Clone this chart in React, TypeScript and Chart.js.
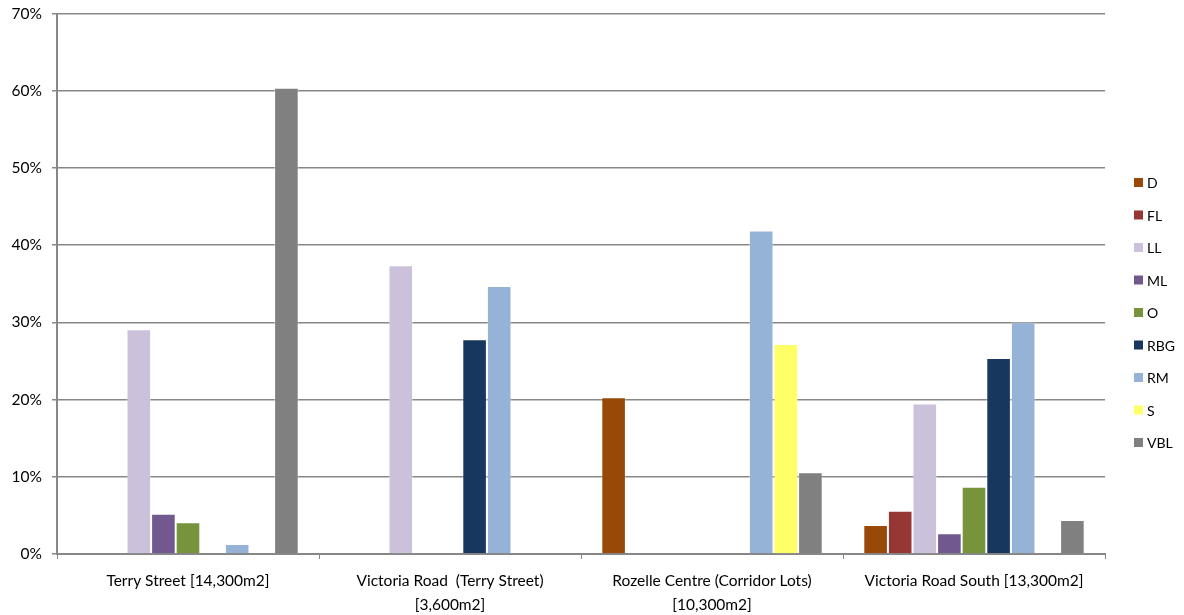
import React, { useEffect, useRef } from "react";
import { Chart, registerables } from "chart.js";

Chart.register(...registerables);

const categories: (string | string[])[] = [
  "Terry Street [14,300m2]",
  ["Victoria Road  (Terry Street)", "[3,600m2]"],
  ["Rozelle Centre (Corridor Lots)", "[10,300m2]"],
  "Victoria Road South [13,300m2]",
];

const seriesNames = ["D", "FL", "LL", "ML", "O", "RBG", "RM", "S", "VBL"];
const seriesColors = [
  "#984807",
  "#953735",
  "#CCC1DA",
  "#71588F",
  "#77933C",
  "#17375E",
  "#95B3D7",
  "#FFFF66",
  "#808080",
];

const D = [0, 0, 20.3, 3.75];
const FL = [0, 0, 0, 5.6];
const LL = [29.1, 37.4, 0, 19.5];
const ML = [5.2, 0, 0, 2.7];
const O = [4.1, 0, 0, 8.7];
const RBG = [0, 27.8, 0, 25.4];
const RM = [1.3, 34.7, 41.9, 30.0];
const S = [0, 0, 27.2, 0];
const VBL = [60.4, 0, 10.6, 4.4];

const seriesValues = [D, FL, LL, ML, O, RBG, RM, S, VBL];

const yTicks = [0, 10, 20, 30, 40, 50, 60, 70];

const FONT = "Lato, 'Open Sans', sans-serif";
const FS = 15.5;
const LEGEND_FS = 14;
const AXIS = "#878787";

// Legend drawn beside the plot area, vertically centred on the canvas.
const sideLegend = {
  id: "sideLegend",
  afterDraw(chart: any) {
    const { ctx, chartArea, height } = chart;
    const datasets = chart.data.datasets;
    const step = 32.5;
    const box = 9;
    const startY = height / 2 + 1 - ((datasets.length - 1) * step) / 2;
    const x = chartArea.right + 29;
    ctx.save();
    ctx.font = `${LEGEND_FS}px ${FONT}`;
    ctx.textBaseline = "middle";
    ctx.textAlign = "left";
    datasets.forEach((ds: any, i: number) => {
      const y = startY + i * step;
      ctx.fillStyle = ds.backgroundColor;
      ctx.fillRect(x, y - box / 2, box, box);
      ctx.fillStyle = "#000";
      ctx.fillText(ds.label, x + box + 4, y + 1);
    });
    ctx.restore();
  },
};

export default function App() {
  const ref = useRef<HTMLCanvasElement | null>(null);

  useEffect(() => {
    if (!ref.current) return;
    const chart = new Chart(ref.current, {
      type: "bar",
      data: {
        labels: categories,
        datasets: seriesNames.map((name, i) => ({
          label: name,
          data: seriesValues[i],
          backgroundColor: seriesColors[i],
          borderColor: "rgba(255,255,255,0.35)",
          borderWidth: 1,
          categoryPercentage: 0.845,
          barPercentage: 1,
        })),
      },
      plugins: [sideLegend],
      options: {
        animation: false,
        responsive: true,
        maintainAspectRatio: false,
        layout: { padding: { left: 0, right: 71, top: 0, bottom: 0 } },
        plugins: {
          tooltip: { enabled: false },
          legend: { display: false },
        },
        scales: {
          x: {
            grid: {
              display: true,
              drawOnChartArea: false,
              drawTicks: true,
              tickLength: 5,
              color: AXIS,
              offset: true,
            },
            border: { color: AXIS, width: 2 },
            ticks: {
              color: "#000",
              font: { family: FONT, size: FS, lineHeight: 1.55 },
              padding: 10,
              maxRotation: 0,
              autoSkip: false,
            },
            afterFit: (axis: any) => {
              axis.height = 61;
            },
          },
          y: {
            min: 0,
            max: 70,
            afterBuildTicks: (axis: any) => {
              axis.ticks = yTicks.map((v) => ({ value: v }));
            },
            grid: {
              color: AXIS,
              lineWidth: 1.5,
              drawTicks: true,
              tickLength: 5,
            },
            border: { color: AXIS, width: 2 },
            ticks: {
              color: "#000",
              font: { family: FONT, size: FS },
              padding: 10,
              callback: (v: any) => `${v}%`,
            },
            afterFit: (axis: any) => {
              axis.width = 49;
              axis.paddingTop = 5.5;
              axis.paddingBottom = 5;
            },
          },
        },
      },
    });
    return () => chart.destroy();
  }, []);

  return (
    <div style={{ width: 1168, height: 607 }}>
      <canvas ref={ref} />
    </div>
  );
}
